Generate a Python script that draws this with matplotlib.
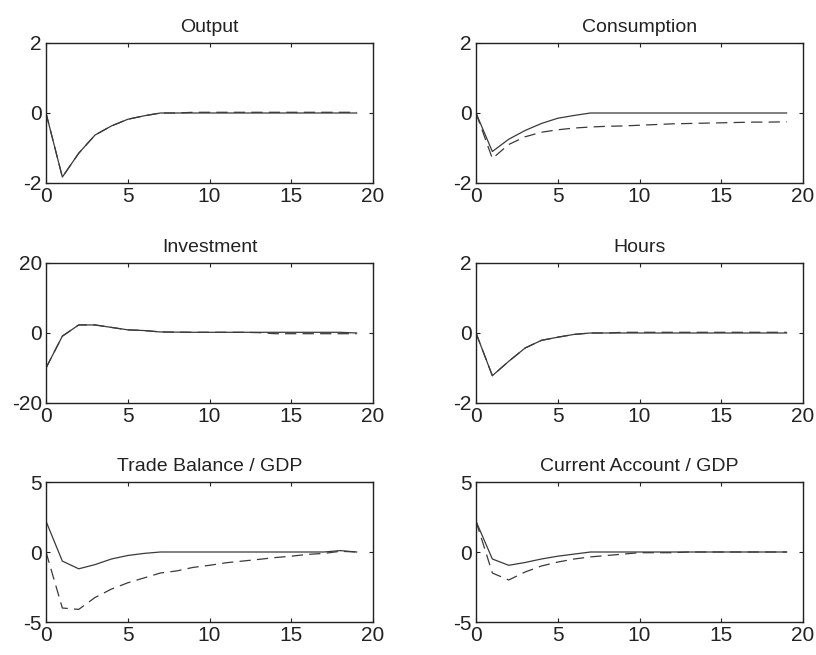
import matplotlib
matplotlib.use("Agg")
import matplotlib.pyplot as plt
import numpy as np

plt.rcParams['font.family'] = ['Liberation Sans', 'DejaVu Sans']
plt.rcParams['axes.unicode_minus'] = False

t = np.arange(20)

titles = ['Output', 'Consumption', 'Investment', 'Hours',
          'Trade Balance / GDP', 'Current Account / GDP']

output_solid = [0, -1.83, -1.15, -0.63, -0.37, -0.18, -0.08, 0, 0, 0, 0, 0, 0, 0, 0, 0, 0, 0, 0, 0]
output_dash = [0, -1.83, -1.15, -0.63, -0.37, -0.18, -0.08, 0, 0, 0.02, 0.02, 0.02, 0.02, 0.02, 0.02, 0.02, 0.02, 0.02, 0.02, 0.02]

cons_solid = [0, -1.1, -0.75, -0.5, -0.3, -0.15, -0.07, 0, 0, 0, 0, 0, 0, 0, 0, 0, 0, 0, 0, 0]
cons_dash = [0, -1.3, -0.9, -0.68, -0.55, -0.48, -0.43, -0.40, -0.38, -0.37, -0.35, -0.33, -0.31, -0.30, -0.29, -0.28, -0.27, -0.26, -0.26, -0.25]

inv_solid = [-10, -0.9, 2.3, 2.3, 1.6, 0.9, 0.7, 0.3, 0.25, 0.2, 0.2, 0.2, 0.2, 0.2, 0.2, 0.2, 0.2, 0.2, 0.2, 0]
inv_dash = [-10, -0.9, 2.3, 2.3, 1.6, 0.9, 0.7, 0.3, 0.25, 0.2, 0.2, 0.2, 0.2, 0.1, -0.2, -0.2, -0.2, -0.2, -0.2, -0.2]

hours_solid = [0, -1.22, -0.81, -0.43, -0.21, -0.12, -0.04, 0, 0, 0, 0, 0, 0, 0, 0, 0, 0, 0, 0, 0]
hours_dash = [0, -1.22, -0.81, -0.43, -0.21, -0.12, -0.04, 0, 0, 0.02, 0.02, 0.02, 0.02, 0.02, 0.02, 0.02, 0.02, 0.02, 0.02, 0.02]

tb_solid = [2.2, -0.65, -1.2, -0.9, -0.5, -0.25, -0.1, 0, 0, 0, 0, 0, 0, 0, 0, 0, 0, 0, 0.1, 0]
tb_dash = [0, -4.0, -4.1, -3.25, -2.65, -2.2, -1.85, -1.5, -1.35, -1.1, -0.95, -0.77, -0.65, -0.53, -0.4, -0.3, -0.17, -0.1, 0.05, 0]

ca_solid = [2.2, -0.5, -0.95, -0.75, -0.5, -0.3, -0.15, 0, 0, 0, 0, 0, 0, 0, 0, 0, 0, 0, 0, 0]
ca_dash = [2.2, -1.5, -2.0, -1.43, -1.0, -0.72, -0.5, -0.35, -0.25, -0.15, -0.05, -0.05, -0.05, 0, 0, 0, 0, 0, 0, 0]

series = [(output_solid, output_dash), (cons_solid, cons_dash),
          (inv_solid, inv_dash), (hours_solid, hours_dash),
          (tb_solid, tb_dash), (ca_solid, ca_dash)]
ylims = [2, 2, 20, 2, 5, 5]

W, H = 816, 655
fig = plt.figure(figsize=(W / 100, H / 100), dpi=100)

lefts = [46, 476]
tops = [43, 263, 482]
aw, ah = 327, 140

for i in range(6):
    r, c = divmod(i, 2)
    ax = fig.add_axes([lefts[c] / W, 1 - (tops[r] + ah) / H, aw / W, ah / H])
    s, d = series[i]
    ax.plot(t, d, color='#3a3a3a', lw=0.9, ls=(0, (9, 5)))
    ax.plot(t, s, color='#3a3a3a', lw=0.9)
    lim = ylims[i]
    ax.set_xlim(0, 20)
    ax.set_ylim(-lim, lim)
    ax.set_xticks([0, 5, 10, 15, 20])
    ax.set_yticks([-lim, 0, lim])
    ax.tick_params(direction='in', top=True, right=True, length=3,
                   labelsize=15, pad=3, width=0.8, colors='#222222')
    for sp in ax.spines.values():
        sp.set_linewidth(1.0)
        sp.set_color('#222222')
    ax.set_title(titles[i], fontsize=14, pad=8, color='#222222')

fig.savefig('out.png', dpi=100)
